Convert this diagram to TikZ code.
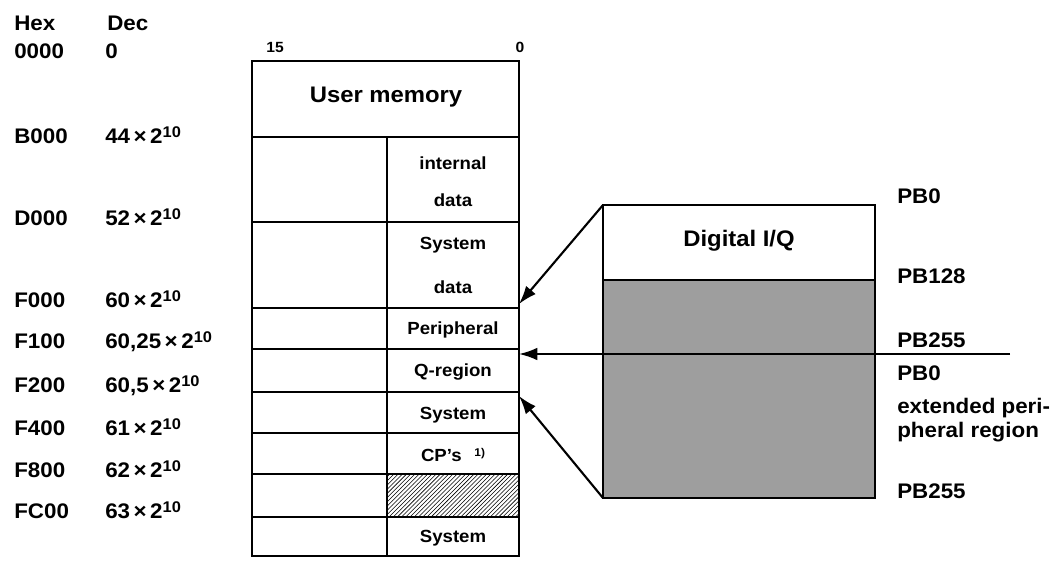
\documentclass[tikz,border=0pt]{standalone}
\usepackage{fontspec}
\setmainfont[FakeStretch=1.06]{Liberation Sans}
\usetikzlibrary{arrows.meta,patterns}

\newcommand{\twoten}{\,×\,2\raisebox{0.5ex}{\fontsize{11}{11}\selectfont\bfseries 10}}

\tikzstyle{addr}=[anchor=base west,inner sep=0pt,font=\fontsize{15}{15}\selectfont\bfseries]
\tikzstyle{cell}=[inner sep=0pt,font=\fontsize{12.5}{12.5}\selectfont\bfseries]
\tikzstyle{title}=[inner sep=0pt,font=\fontsize{16}{16}\selectfont\bfseries]
\tikzstyle{bitno}=[anchor=base,inner sep=0pt,font=\fontsize{10.5}{10.5}\selectfont\bfseries]
\tikzstyle{mem}=[draw,line width=1.8pt]
\tikzstyle{ptr}=[draw,line width=1.5pt,-{Latex[length=13pt,width=9pt]}]

\begin{document}
\begin{tikzpicture}[x=0.025cm,y=-0.025cm]
    \useasboundingbox (0,0) rectangle (1062,560);

    % address columns
    \node[addr] (hex) at (14,30) {Hex};
    \node[addr] (dec) at (107,30) {Dec};
    \foreach \y/\hex/\dec in {{58/0000/0}, {143/B000/44\twoten}, {225/D000/52\twoten},
                            {307/F000/60\twoten}, {348/F100/60,25\twoten},
                            {392/F200/60,5\twoten}, {435/F400/61\twoten},
                            {477/F800/62\twoten}, {518/FC00/63\twoten}}
    {
        \node[addr] (h\hex) at (14,\y) {\hex};
        \node[addr] (d\hex) at (105,\y) {\dec};
    }

    % memory map
    \node[bitno] (b15) at (275,52) {15};
    \node[bitno] (b0) at (520,52) {0};
    \path[mem] (252,61) rectangle (519,556);
    \foreach \y in {137,222,308,349,392,433,474,517}
        \path[mem] (252,\y) -- (519,\y);
    \path[mem] (387,137) -- (387,556);
    \fill[pattern=north east lines] (387,474) rectangle (519,517);
    \path[mem] (387,474) rectangle (519,517);

    \node[title] (user) at (386,97) {User memory};
    \foreach \pos/\name/\txt in {{(453,163)/int/internal}, {(453,200)/intd/data},
                                 {(453,245)/sys/System}, {(453,287)/sysd/data},
                                 {(453,330)/per/Peripheral}, {(453,372)/qreg/Q-region},
                                 {(453,415)/sysb/System}, {(453,538)/sysc/System}}
        \node[cell] (\name) at \pos {\txt};
    \node[cell] (cps) at (453,455) {CP's\hspace{9pt}\raisebox{0.6ex}{\fontsize{8}{8}\selectfont\bfseries 1)}};

    % digital I/Q block
    \fill[black!38] (603,280) rectangle (875,498);
    \path[mem] (603,205) rectangle (875,498);
    \path[mem] (603,280) -- (875,280);
    \node[title] (dio) at (739,241) {Digital I/Q};

    \coordinate (ioTL) at (603,205);
    \coordinate (ioBL) at (603,498);
    \coordinate (cut) at (1010,354);
    \coordinate (tF000) at (519,304);
    \coordinate (tF100) at (519,354);
    \coordinate (tF200) at (519,396);
    \path[ptr] (ioTL) -- (tF000);
    \path[ptr] (cut) -- (tF100);
    \path[ptr] (ioBL) -- (tF200);

    % peripheral byte labels
    \foreach \y/\name/\txt in {{203/pba/PB0}, {283/pbb/PB128}, {347/pbc/PB255},
                               {380/pbd/PB0}, {413/ext/extended peri-},
                               {437/extb/pheral region}, {498/pbe/PB255}}
        \node[addr] (\name) at (897,\y) {\txt};
\end{tikzpicture}
\end{document}
